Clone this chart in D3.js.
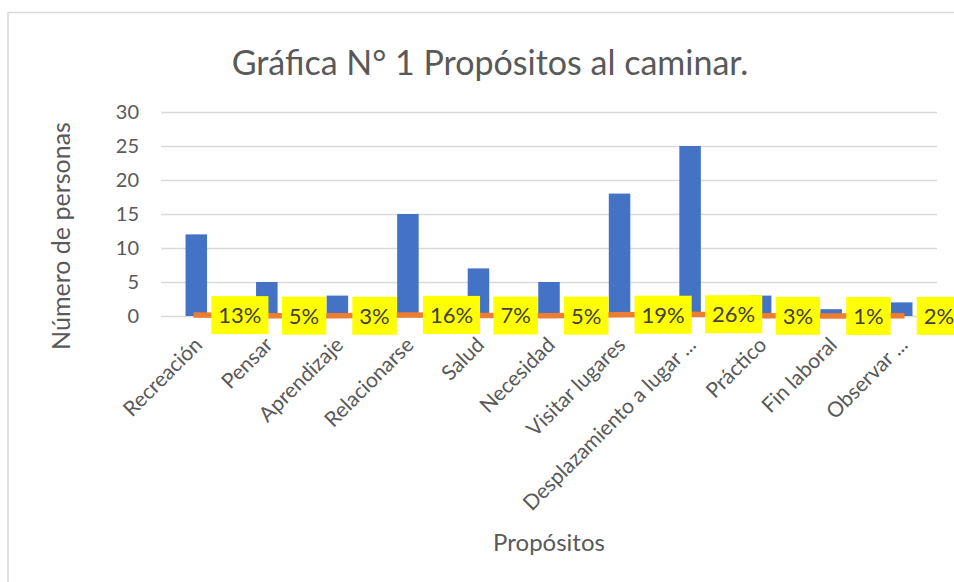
<!DOCTYPE html>
<html>
<head>
<meta charset="utf-8">
<script src="https://cdn.jsdelivr.net/npm/d3@7"></script>
<style>
  body { margin: 0; background: #fff; }
  svg { display: block; font-family: Lato, "Open Sans", sans-serif; }
</style>
</head>
<body>
<svg id="chart" width="954" height="582"></svg>
<script>
// data
const categories = ["Recreación", "Pensar", "Aprendizaje", "Relacionarse", "Salud", "Necesidad",
  "Visitar lugares", "Desplazamiento a lugar ...", "Práctico", "Fin laboral", "Observar ..."];
const personas = [12, 5, 3, 15, 7, 5, 18, 25, 3, 1, 2];
const porcentajes = [0.13, 0.05, 0.03, 0.16, 0.07, 0.05, 0.19, 0.26, 0.03, 0.01, 0.02];
const yTicks = [0, 5, 10, 15, 20, 25, 30];

const margin = {top: 112, right: 17, bottom: 266, left: 161};
const W = 954, H = 582;
const plotW = W - margin.left - margin.right;
const plotH = H - margin.top - margin.bottom;

const svg = d3.select("#chart");

// chart frame
svg.append("rect")
  .attr("x", 8).attr("y", 12.5)
  .attr("width", 960).attr("height", 600)
  .attr("fill", "#fff")
  .attr("stroke", "#d9d9d9").attr("stroke-width", 1.5);

// title
svg.append("text")
  .attr("x", 490).attr("y", 75)
  .attr("text-anchor", "middle")
  .attr("font-size", "34px")
  .attr("fill", "#595959")
  .text("Gráfica N° 1 Propósitos al caminar.");

const g = svg.append("g").attr("transform", "translate(" + margin.left + "," + margin.top + ")");

var x = d3.scaleBand().domain(categories).range([0, plotW]).padding(0);
var y = d3.scaleLinear().domain([0, 30]).range([plotH, 0]);

// y axis + gridlines
var yAxis = g.append("g").attr("class", "y-axis")
  .call(d3.axisLeft(y).tickValues(yTicks).tickSize(-plotW).tickPadding(22));
yAxis.select(".domain").remove();
yAxis.selectAll("line").attr("stroke", "#d9d9d9").attr("stroke-width", 1.3);
yAxis.selectAll("text").attr("fill", "#595959").attr("font-size", "20px")
  .attr("font-family", "Lato, sans-serif");

// bars
var barW = x.bandwidth() * 0.305;
g.selectAll(".bar").data(personas).enter().append("rect")
  .attr("class", "bar")
  .attr("x", (d, i) => x(categories[i]) + x.bandwidth() / 2 - barW / 2)
  .attr("y", d => y(d))
  .attr("width", barW)
  .attr("height", d => y(0) - y(d))
  .attr("fill", "#4472c4");

// percentage line
var line = d3.line()
  .x((d, i) => x(categories[i]) + x.bandwidth() / 2)
  .y(d => y(d));
g.append("path")
  .datum(porcentajes)
  .attr("d", line)
  .attr("fill", "none")
  .attr("stroke", "#ed7d31")
  .attr("stroke-width", 5.5)
  .attr("stroke-linecap", "square");

// percentage labels (yellow boxes)
var labels = g.selectAll(".lbl").data(porcentajes).enter().append("g")
  .attr("class", "lbl")
  .attr("transform", (d, i) => "translate(" + (x(categories[i]) + x.bandwidth() / 2 + 15) + "," + y(d) + ")");
labels.append("rect").attr("fill", "#ffff00");
labels.append("text")
  .attr("x", 7).attr("dy", "0.36em")
  .attr("font-size", "22px")
  .attr("fill", "#404040")
  .text(d => Math.round(d * 100) + "%");
labels.each(function() {
  var t = d3.select(this).select("text");
  var w = t.node().getComputedTextLength();
  d3.select(this).select("rect")
    .attr("x", 0).attr("y", -19)
    .attr("width", w + 14).attr("height", 38);
});

// x axis labels
var xAxis = g.append("g").attr("class", "x-axis")
  .attr("transform", "translate(0," + plotH + ")")
  .call(d3.axisBottom(x).tickSize(0));
xAxis.select(".domain").remove();
xAxis.selectAll("text")
  .attr("x", 0).attr("y", 0).attr("dy", "0.35em")
  .attr("transform", "translate(2,25) rotate(-45)")
  .style("text-anchor", "end")
  .attr("fill", "#595959")
  .attr("font-size", "21px")
  .attr("font-family", "Lato, sans-serif");

// axis titles
svg.append("text")
  .attr("transform", "translate(70,236) rotate(-90)")
  .attr("text-anchor", "middle")
  .attr("font-size", "25px")
  .attr("fill", "#595959")
  .text("Número de personas");

svg.append("text")
  .attr("x", 549).attr("y", 551)
  .attr("text-anchor", "middle")
  .attr("font-size", "24px")
  .attr("fill", "#595959")
  .text("Propósitos");
</script>
</body>
</html>
